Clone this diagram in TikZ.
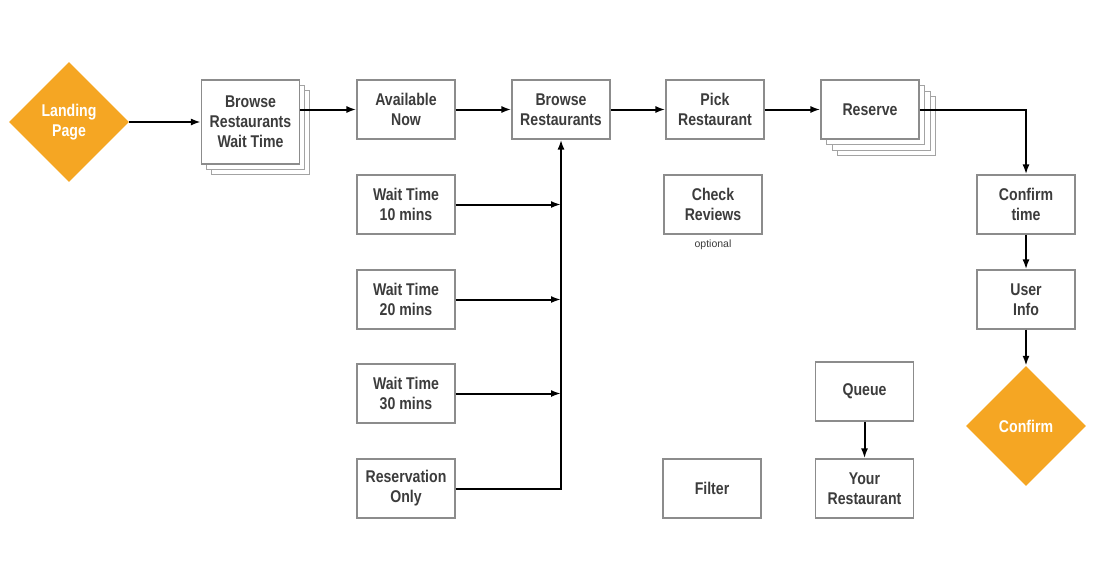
\documentclass[tikz,border=0pt]{standalone}
\usepackage{fontspec}
\setmainfont{Liberation Sans}[FakeStretch=0.83]
\newfontfamily\plainsans{Liberation Sans}
\usetikzlibrary{shapes.geometric,arrows.meta}
\definecolor{orng}{HTML}{F5A623}
\definecolor{txt}{HTML}{3C3C3C}
\definecolor{edgec}{HTML}{8C8C8C}
\begin{document}
\begin{tikzpicture}[x=1pt,y=-1pt,
  box/.style={draw=edgec,line width=1.1pt,fill=white,minimum width=98pt,minimum height=59pt,inner sep=0pt,align=center,font=\fontsize{17}{20}\selectfont\bfseries,text=txt},
  ghost/.style={draw=edgec!80,line width=0.9pt,fill=white,minimum width=98pt,minimum height=84pt,inner sep=0pt},
  dia/.style={diamond,aspect=1,fill=orng,minimum size=120pt,inner sep=0pt,align=center,font=\fontsize{17}{20}\selectfont\bfseries,text=white},
  arr/.style={-{Latex[length=10pt,width=7pt]},line width=2pt,black}]
\fill[white] (0,0) rectangle (1100,586);
\useasboundingbox (0,0) rectangle (1100,586);
% Landing
\node[dia] (lp) at (69,122) {Landing\\Page};
% Browse Restaurants Wait Time stack
\node[ghost] (bwt2) at (260.5,132) {};
\node[ghost] (bwt1) at (255.5,127) {};
\node[box,minimum height=84pt] (bwt) at (250.5,122) {Browse\\Restaurants\\Wait Time};
% top row
\node[box] (an) at (406,109.5) {Available\\Now};
\node[box] (br) at (561,109.5) {Browse\\Restaurants};
\node[box] (pr) at (715,109.5) {Pick\\Restaurant};
% Reserve stack
\node[ghost,minimum height=59pt] (rs3) at (886.5,126) {};
\node[ghost,minimum height=59pt] (rs2) at (881,120.5) {};
\node[ghost,minimum height=59pt] (rs1) at (875.5,115) {};
\node[box] (rs) at (870,109.5) {Reserve};
% right column
\node[box] (ct) at (1026,204.5) {Confirm\\time};
\node[box] (ui) at (1026,299.5) {User\\Info};
\node[dia] (cf) at (1026,426) {Confirm};
% wait time column
\node[box] (w10) at (406,204.5) {Wait Time\\10 mins};
\node[box] (w20) at (406,299.5) {Wait Time\\20 mins};
\node[box] (w30) at (406,393.5) {Wait Time\\30 mins};
\node[box] (ro) at (406,488.5) {Reservation\\Only};
% others
\node[box] (cr) at (713,204.5) {Check\\Reviews};
\node[font=\plainsans\fontsize{10.5}{12}\selectfont,text=txt] (opt) at (713,244.5) {optional};
\node[box] (fl) at (712,488.5) {Filter};
\node[box] (qu) at (864.5,391.5) {Queue};
\node[box] (yr) at (864.5,488.5) {Your\\Restaurant};
% connectors
\draw[arr] (lp.east) -- (bwt.west);
\draw[arr] (bwt.east |- an.west) -- (an.west);
\draw[arr] (an.east) -- (br.west);
\draw[arr] (br.east) -- (pr.west);
\draw[arr] (pr.east) -- (rs.west);
\draw[arr] (rs.east) -| (ct.north);
\draw[arr] (ct.south) -- (ui.north);
\draw[arr] (ui.south) -- (cf.north);
\draw[arr] (ro.east) -- (ro.east -| br.south) -- (br.south);
\draw[arr] (w10.east) -- (w10.east -| br.south);
\draw[arr] (w20.east) -- (w20.east -| br.south);
\draw[arr] (w30.east) -- (w30.east -| br.south);
\draw[arr] (qu.south) -- (yr.north);
\end{tikzpicture}
\end{document}
